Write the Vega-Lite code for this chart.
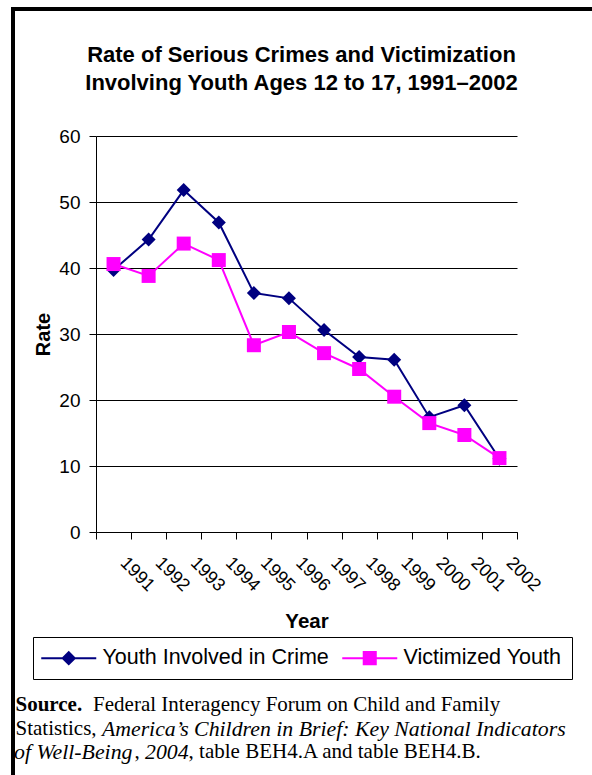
{
  "$schema": "https://vega.github.io/schema/vega-lite/v6.json",
  "padding": {"left": 11, "top": 7, "right": 0, "bottom": 0},
  "background": "white",
  "bounds": "flush",
  "spacing": 0,
  "config": {
    "view": {"stroke": null},
    "font": "Liberation Sans"
  },
  "hconcat": [
    {
      "width": 4, "height": 768,
      "data": {"values": []},
      "mark": "text",
      "encoding": {},
      "view": {"fill": "black", "stroke": null}
    },
    {
      "bounds": "flush",
      "spacing": 125,
      "vconcat": [
        {
          "width": 577, "height": 4,
          "data": {"values": []},
          "mark": "text",
          "encoding": {},
          "view": {"fill": "black", "stroke": null}
        },
        {
          "bounds": "flush",
          "spacing": 557.25,
          "vconcat": [
            {
              "bounds": "flush",
              "spacing": 80,
              "hconcat": [
                {
                  "width": 1, "height": 1,
                  "data": {"values": []},
                  "mark": "text",
                  "encoding": {},
                  "view": {"stroke": null}
                },
                {
                  "width": 421, "height": 396,
                  "title": {
                    "text": ["Rate of Serious Crimes and Victimization", "Involving Youth Ages 12 to 17, 1991–2002"],
                    "font": "Liberation Sans", "fontSize": 22, "fontWeight": "bold", "color": "black",
                    "lineHeight": 28, "offset": 32, "anchor": "middle", "dx": -5
                  },
                  "data": {"values": [
                    {"year": "1991", "series": "Youth Involved in Crime", "rate": 39.7},
                    {"year": "1992", "series": "Youth Involved in Crime", "rate": 44.3},
                    {"year": "1993", "series": "Youth Involved in Crime", "rate": 51.8},
                    {"year": "1994", "series": "Youth Involved in Crime", "rate": 46.9},
                    {"year": "1995", "series": "Youth Involved in Crime", "rate": 36.2},
                    {"year": "1996", "series": "Youth Involved in Crime", "rate": 35.4},
                    {"year": "1997", "series": "Youth Involved in Crime", "rate": 30.6},
                    {"year": "1998", "series": "Youth Involved in Crime", "rate": 26.5},
                    {"year": "1999", "series": "Youth Involved in Crime", "rate": 26.1},
                    {"year": "2000", "series": "Youth Involved in Crime", "rate": 17.4},
                    {"year": "2001", "series": "Youth Involved in Crime", "rate": 19.2},
                    {"year": "2002", "series": "Youth Involved in Crime", "rate": 11.1},
                    {"year": "1991", "series": "Victimized Youth", "rate": 40.6},
                    {"year": "1992", "series": "Victimized Youth", "rate": 38.8},
                    {"year": "1993", "series": "Victimized Youth", "rate": 43.7},
                    {"year": "1994", "series": "Victimized Youth", "rate": 41.2},
                    {"year": "1995", "series": "Victimized Youth", "rate": 28.3},
                    {"year": "1996", "series": "Victimized Youth", "rate": 30.3},
                    {"year": "1997", "series": "Victimized Youth", "rate": 27.1},
                    {"year": "1998", "series": "Victimized Youth", "rate": 24.7},
                    {"year": "1999", "series": "Victimized Youth", "rate": 20.5},
                    {"year": "2000", "series": "Victimized Youth", "rate": 16.5},
                    {"year": "2001", "series": "Victimized Youth", "rate": 14.7},
                    {"year": "2002", "series": "Victimized Youth", "rate": 11.2}
                  ]},
                  "encoding": {
                    "x": {
                      "field": "year", "type": "ordinal",
                      "scale": {"type": "band", "paddingInner": 0, "paddingOuter": 0},
                      "axis": {
                        "title": "Year", "titleFont": "Liberation Sans", "titleFontSize": 20.5, "titleFontWeight": "bold", "titleColor": "black", "titlePadding": 17,
                        "labelAngle": 45, "labelAlign": "left", "labelBaseline": "middle", "labelOffset": 9, "labelPadding": 21,
                        "labelFont": "Liberation Sans", "labelFontSize": 18, "labelColor": "black", "labelOverlap": false, "labelBound": false,
                        "tickBand": "extent", "tickSize": 7, "tickColor": "black", "domainColor": "black", "grid": false
                      }
                    },
                    "y": {
                      "field": "rate", "type": "quantitative",
                      "scale": {"domain": [0, 60], "nice": false},
                      "axis": {
                        "title": "Rate", "titleFont": "Liberation Sans", "titleFontSize": 20, "titleFontWeight": "bold", "titleColor": "black", "titlePadding": 5,
                        "values": [0, 10, 20, 30, 40, 50, 60], "labelFlush": false,
                        "labelFont": "Liberation Sans", "labelFontSize": 19, "labelColor": "black", "labelPadding": 9,
                        "tickSize": 7, "tickColor": "black", "domainColor": "black",
                        "grid": true, "gridColor": "black", "gridOpacity": 1, "gridWidth": 1
                      }
                    }
                  },
                  "resolve": {"scale": {"color": "independent", "shape": "independent", "stroke": "independent"}},
                  "layer": [
                    {
                      "mark": {"type": "line", "strokeWidth": 2},
                      "encoding": {
                        "color": {"field": "series", "type": "nominal", "scale": {"domain": ["Youth Involved in Crime", "Victimized Youth"], "range": ["#000080", "#FF00FF"]}, "legend": null}
                      }
                    },
                    {
                      "mark": {"type": "point", "filled": true, "opacity": 1, "size": 196},
                      "encoding": {
                        "color": {"field": "series", "type": "nominal", "scale": {"domain": ["Youth Involved in Crime", "Victimized Youth"], "range": ["#000080", "#FF00FF"]}, "legend": null},
                        "shape": {
                          "field": "series", "type": "nominal",
                          "scale": {"domain": ["Youth Involved in Crime", "Victimized Youth"], "range": ["diamond", "square"]},
                          "legend": null
                        }
                      }
                    },
                    {
                      "transform": [{"filter": "false"}],
                      "mark": {"type": "point", "filled": true, "opacity": 1, "size": 196, "strokeWidth": 2},
                      "encoding": {
                        "color": {
                          "field": "series", "type": "nominal",
                          "scale": {"domain": ["Youth Involved in Crime", "Victimized Youth"], "range": ["#000080", "#FF00FF"]},
                          "legend": {"title": null, "orient": "none", "legendX": -63, "legendY": 501, "direction": "horizontal", "strokeColor": "black", "padding": 10, "columnPadding": 9, "labelFont": "Liberation Sans", "labelFontSize": 21.5, "labelColor": "black", "labelLimit": 400, "symbolSize": 196, "symbolStrokeWidth": 2, "symbolOffset": 15, "labelOffset": 23}
                        },
                        "stroke": {
                          "field": "series", "type": "nominal",
                          "scale": {"domain": ["Youth Involved in Crime", "Victimized Youth"], "range": ["#000080", "#FF00FF"]},
                          "legend": {"title": null, "orient": "none", "legendX": -63, "legendY": 501, "direction": "horizontal", "strokeColor": "black", "padding": 10, "columnPadding": 9, "labelFont": "Liberation Sans", "labelFontSize": 21.5, "labelColor": "black", "labelLimit": 400, "symbolSize": 196, "symbolStrokeWidth": 2, "symbolOffset": 15, "labelOffset": 23}
                        },
                        "shape": {
                          "field": "series", "type": "nominal",
                          "scale": {"domain": ["Youth Involved in Crime", "Victimized Youth"], "range": ["M-3.93,0H3.93M0,-0.86L0.86,0L0,0.86L-0.86,0Z", "M-3.93,0H3.93M-0.86,-0.86H0.86V0.86H-0.86Z"]},
                          "legend": {"title": null, "orient": "none", "legendX": -63, "legendY": 501, "direction": "horizontal", "strokeColor": "black", "padding": 10, "columnPadding": 9, "labelFont": "Liberation Sans", "labelFontSize": 21.5, "labelColor": "black", "labelLimit": 400, "symbolSize": 196, "symbolStrokeWidth": 2, "symbolOffset": 15, "labelOffset": 23}
                        }
                      }
                    }
                  ]
                }
              ]
            },
            {
              "width": 1, "height": 70.5,
              "data": {"values": [
                {"line": 1, "seg": "s1a", "text": "Source."},
                {"line": 1, "seg": "s1b", "text": "Federal Interagency Forum on Child and Family"},
                {"line": 2, "seg": "s2a", "text": "Statistics,"},
                {"line": 2, "seg": "s2b", "text": "America’s Children in Brief:  Key National Indicators"},
                {"line": 3, "seg": "s3a", "text": "of Well-Being"},
                {"line": 3, "seg": "s3b", "text": ","},
                {"line": 3, "seg": "s3c", "text": "2004"},
                {"line": 3, "seg": "s3d", "text": ", table BEH4.A and table BEH4.B."}
              ]},
              "encoding": {
                "y": {"field": "line", "type": "ordinal", "scale": {"type": "point", "padding": 0.5}, "axis": null},
                "text": {"field": "text"}
              },
              "layer": [
                {"transform": [{"filter": "datum.seg === 's1a'"}], "mark": {"type": "text", "align": "left", "baseline": "middle", "font": "Liberation Serif", "fontSize": 21, "fontWeight": "bold", "color": "black"}},
                {"transform": [{"filter": "datum.seg === 's1b'"}], "mark": {"type": "text", "align": "left", "baseline": "middle", "font": "Liberation Serif", "fontSize": 21, "color": "black", "dx": 77.6}},
                {"transform": [{"filter": "datum.seg === 's2a'"}], "mark": {"type": "text", "align": "left", "baseline": "middle", "font": "Liberation Serif", "fontSize": 21, "color": "black"}},
                {"transform": [{"filter": "datum.seg === 's2b'"}], "mark": {"type": "text", "align": "left", "baseline": "middle", "font": "Liberation Serif", "fontSize": 21.8, "fontStyle": "italic", "color": "black", "dx": 86.4}},
                {"transform": [{"filter": "datum.seg === 's3a'"}], "mark": {"type": "text", "align": "left", "baseline": "middle", "font": "Liberation Serif", "fontSize": 21.8, "fontStyle": "italic", "color": "black", "dx": -1.5}},
                {"transform": [{"filter": "datum.seg === 's3b'"}], "mark": {"type": "text", "align": "left", "baseline": "middle", "font": "Liberation Serif", "fontSize": 21, "color": "black", "dx": 119}},
                {"transform": [{"filter": "datum.seg === 's3c'"}], "mark": {"type": "text", "align": "left", "baseline": "middle", "font": "Liberation Serif", "fontSize": 21.8, "fontStyle": "italic", "color": "black", "dx": 129.5}},
                {"transform": [{"filter": "datum.seg === 's3d'"}], "mark": {"type": "text", "align": "left", "baseline": "middle", "font": "Liberation Serif", "fontSize": 21, "color": "black", "dx": 173.1}}
              ]
            }
          ]
        }
      ]
    }
  ]
}
